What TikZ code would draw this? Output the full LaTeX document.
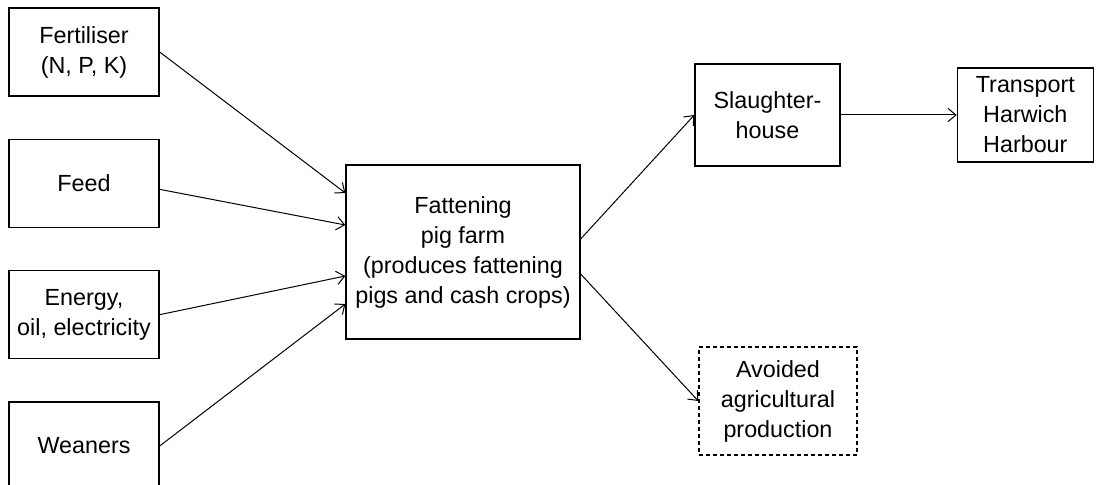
\documentclass[tikz,border=0pt]{standalone}
\usepackage{fontspec}
\setmainfont{Liberation Sans}
\usetikzlibrary{positioning,arrows.meta}

\begin{document}
\begin{tikzpicture}[
    x=0.75pt, y=-0.75pt,
    font=\fontsize{17.5pt}{22.5pt}\selectfont,
    node distance=31.5pt,
    input/.style={draw, line width=1pt, fill=white, rectangle, align=center, minimum width=112.5pt, minimum height=66pt},
    farmbox/.style={draw, line width=1pt, fill=white, rectangle, align=center, minimum width=175.5pt, minimum height=130.5pt},
    output/.style={draw, line width=1pt, fill=white, rectangle, align=center},
    avoided/.style={output, dash pattern=on 3pt off 2.25pt},
    arrow/.style={-{Straight Barb[length=6pt, width=10pt]}, line width=0.75pt}
]
    \useasboundingbox (0,0) rectangle (1111,485);

    % Blocks
    \node[input] (fertiliser) at (84,52) {Fertiliser\\(N, P, K)};
    \node[input, below=of fertiliser] (feed) {Feed};
    \node[input, below=of feed] (energy) {Energy,\\oil, electricity};
    \node[input, below=of energy] (weaners) {Weaners};
    \node[farmbox] (farm) at (463,252) {Fattening\\pig farm\\(produces fattening\\pigs and cash crops)};
    \node[output, minimum width=108.75pt, minimum height=76.5pt] (slaughter) at (767.5,115) {Slaughter-\\house};
    \node[output, minimum width=102pt, minimum height=70.5pt, right=87pt of slaughter] (transport) {Transport\\Harwich\\Harbour};
    \node[avoided, minimum width=118.5pt, minimum height=81pt] (avoid) at (778,401) {Avoided\\agricultural\\production};

    % Arrows
    \draw[arrow] (fertiliser.east) -- ([yshift=44.25pt]farm.west);
    \draw[arrow] ([yshift=-4.5pt]feed.east) -- ([yshift=20.25pt]farm.west);
    \draw[arrow] (energy.east) -- ([yshift=-18pt]farm.west);
    \draw[arrow] (weaners.east) -- ([yshift=-39pt]farm.west);
    \draw[arrow] ([yshift=9.75pt]farm.east) -- (slaughter.west);
    \draw[arrow] ([yshift=-16.5pt]farm.east) -- (avoid.west);
    \draw[arrow] (slaughter.east) -- (slaughter.east -| transport.west);
\end{tikzpicture}
\end{document}
